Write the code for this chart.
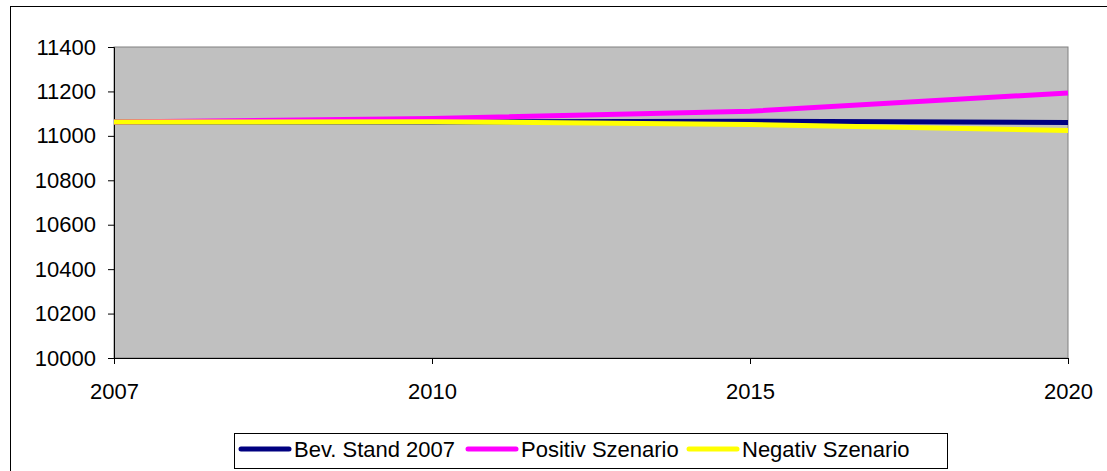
<!DOCTYPE html>
<html>
<head>
<meta charset="utf-8">
<script src="https://cdn.jsdelivr.net/npm/d3@7"></script>
<style>
  body { margin: 0; background: #fff; }
  svg { display: block; font-family: Arial, "Liberation Sans", sans-serif; }
</style>
</head>
<body>
<div id="wrapper"></div>
<script>
const years = ["2007", "2010", "2015", "2020"];
const bevStand = [11062, 11062, 11066, 11060];
const positiv = [11062, 11078, 11111, 11193];
const negativ = [11062, 11064, 11051, 11024];
const yTicks = [10000, 10200, 10400, 10600, 10800, 11000, 11200, 11400];

const seriesNames = ["Bev. Stand 2007", "Positiv Szenario", "Negativ Szenario"];
const seriesColors = ["#000080", "#ff00ff", "#ffff00"];

const drawChart = () => {
  const dimensions = {
    width: 1107,
    height: 471,
    margin: { top: 47, right: 39, bottom: 113, left: 114 },
  };
  dimensions.boundedWidth =
    dimensions.width - dimensions.margin.left - dimensions.margin.right;
  dimensions.boundedHeight =
    dimensions.height - dimensions.margin.top - dimensions.margin.bottom;

  const dataset = [bevStand, positiv, negativ].map((values, i) => ({
    name: seriesNames[i],
    color: seriesColors[i],
    values: values.map((v, j) => ({ year: years[j], value: v })),
  }));

  const wrapper = d3
    .select("#wrapper")
    .append("svg")
    .attr("width", dimensions.width)
    .attr("height", dimensions.height);

  // outer chart border
  wrapper
    .append("rect")
    .attr("x", 10.5)
    .attr("y", 6.5)
    .attr("width", dimensions.width)
    .attr("height", dimensions.height)
    .attr("fill", "none")
    .attr("stroke", "#000");

  const bounds = wrapper
    .append("g")
    .attr(
      "transform",
      `translate(${dimensions.margin.left}, ${dimensions.margin.top})`
    );

  const xScale = d3
    .scalePoint()
    .domain(years)
    .range([0, dimensions.boundedWidth]);

  const yScale = d3
    .scaleLinear()
    .domain([10000, 11400])
    .range([dimensions.boundedHeight, 0]);

  bounds
    .append("rect")
    .attr("width", dimensions.boundedWidth)
    .attr("height", dimensions.boundedHeight)
    .attr("fill", "#c0c0c0")
    .attr("stroke", "#808080")
    .attr("stroke-width", 1);

  const yAxisGenerator = d3
    .axisLeft(yScale)
    .tickValues(yTicks)
    .tickSize(6)
    .tickPadding(12)
    .tickFormat(d3.format("d"));

  const yAxis = bounds.append("g").call(yAxisGenerator);
  yAxis.select(".domain").attr("stroke", "#000");
  yAxis.selectAll("text").style("font-size", "22px").attr("fill", "#000");

  const xAxisGenerator = d3
    .axisBottom(xScale)
    .tickSize(6)
    .tickPadding(19);

  const xAxis = bounds
    .append("g")
    .attr("transform", `translate(0, ${dimensions.boundedHeight})`)
    .call(xAxisGenerator);
  xAxis.select(".domain").attr("stroke", "#000");
  xAxis.selectAll("text").style("font-size", "22px").attr("fill", "#000");

  const lineGenerator = d3
    .line()
    .x((d) => xScale(d.year))
    .y((d) => yScale(d.value));

  bounds
    .selectAll(".series")
    .data(dataset)
    .join("path")
    .attr("class", "series")
    .attr("d", (d) => lineGenerator(d.values))
    .attr("fill", "none")
    .attr("stroke", (d) => d.color)
    .attr("stroke-width", 5)
    .attr("stroke-linejoin", "round");

  // legend
  const legend = wrapper.append("g").attr("transform", "translate(234, 433)");
  legend
    .append("rect")
    .attr("x", 0.5)
    .attr("y", 0.5)
    .attr("width", 713)
    .attr("height", 35)
    .attr("fill", "#fff")
    .attr("stroke", "#000");

  const legendOffsets = [6, 233, 454];
  const items = legend
    .selectAll(".item")
    .data(dataset)
    .join("g")
    .attr("class", "item")
    .attr("transform", (d, i) => `translate(${legendOffsets[i]}, 16)`);

  items
    .append("line")
    .attr("x1", 1)
    .attr("x2", 49)
    .attr("stroke", (d) => d.color)
    .attr("stroke-width", 5)
    .attr("stroke-linecap", "round");

  items
    .append("text")
    .attr("x", 54)
    .attr("y", 8)
    .style("font-size", "22px")
    .text((d) => d.name);
};

drawChart();
</script>
</body>
</html>
